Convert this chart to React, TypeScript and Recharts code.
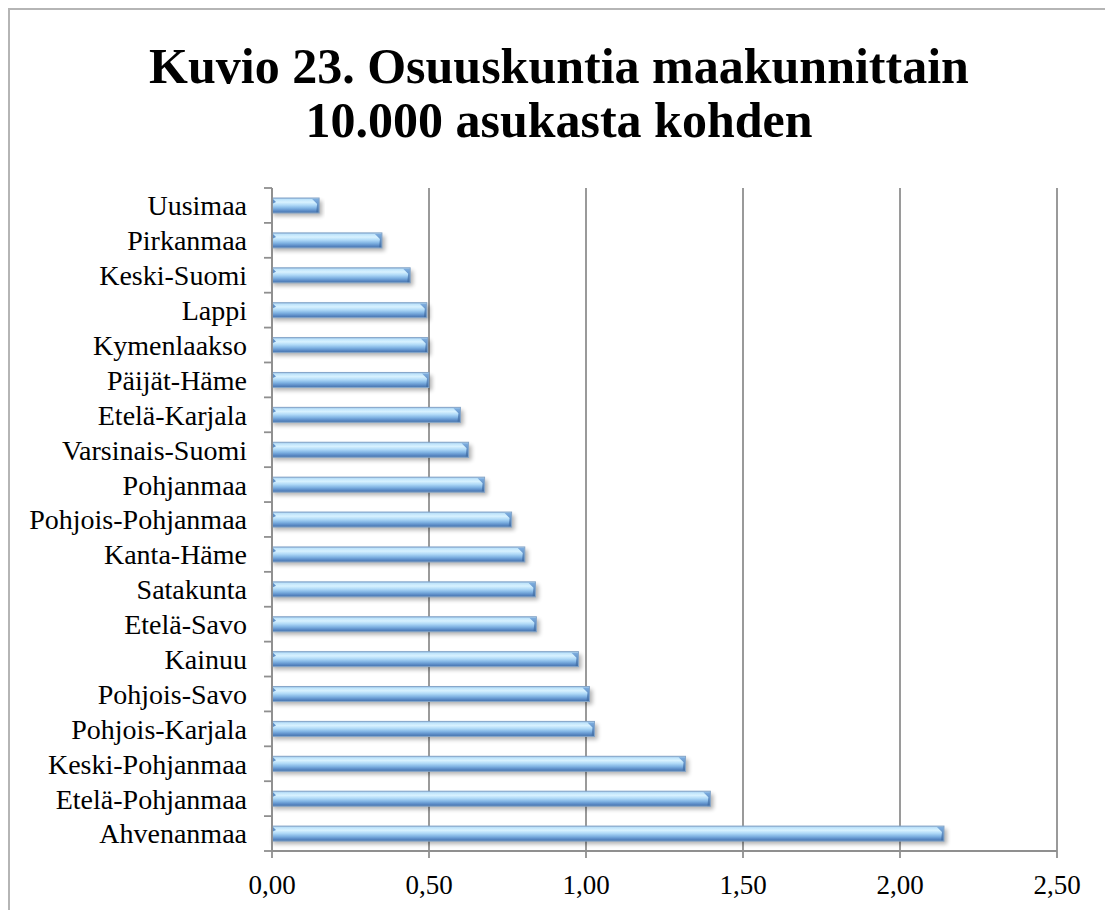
import React from "react";
import { Bar, BarChart, CartesianGrid, XAxis, YAxis } from "recharts";

const regions = [
  "Uusimaa",
  "Pirkanmaa",
  "Keski-Suomi",
  "Lappi",
  "Kymenlaakso",
  "Päijät-Häme",
  "Etelä-Karjala",
  "Varsinais-Suomi",
  "Pohjanmaa",
  "Pohjois-Pohjanmaa",
  "Kanta-Häme",
  "Satakunta",
  "Etelä-Savo",
  "Kainuu",
  "Pohjois-Savo",
  "Pohjois-Karjala",
  "Keski-Pohjanmaa",
  "Etelä-Pohjanmaa",
  "Ahvenanmaa",
];

const perTenThousand = [
  0.15, 0.35, 0.44, 0.493, 0.496, 0.5, 0.6, 0.626, 0.677, 0.763, 0.805, 0.839, 0.842, 0.976, 1.011,
  1.027, 1.317, 1.396, 2.14,
];

const xTicks = [0, 0.5, 1, 1.5, 2, 2.5];

const titleLines = ["Kuvio 23. Osuuskuntia maakunnittain", "10.000 asukasta kohden"];

const chartData = regions.map((name, i) => ({ name, value: perTenThousand[i] }));

const serif = "'Liberation Serif', 'Times New Roman', serif";
const axisGray = "#8f8f8f";
const TICK_LEN = 8;
const TICK_GAP = 17;

// category ticks sit on band boundaries (Excel style), labels in the middle
function RegionTick(props: any) {
  const { x, y, payload, index, visibleTicksCount } = props;
  const half = payload?.offset ?? 0;
  const lineX1 = x + TICK_GAP;
  const lineX2 = x + TICK_GAP + TICK_LEN;
  return (
    <g>
      <line x1={lineX1} x2={lineX2} y1={y - half} y2={y - half} stroke={axisGray} strokeWidth={1.8} />
      {index === visibleTicksCount - 1 && (
        <line x1={lineX1} x2={lineX2} y1={y + half} y2={y + half} stroke={axisGray} strokeWidth={1.8} />
      )}
      <text x={x} y={y} dy="0.355em" textAnchor="end" fontSize={28} fontFamily={serif} fill="#000">
        {payload.value}
      </text>
    </g>
  );
}

function BevelBar(props: any) {
  const { x, y, width, height } = props;
  if (!width || width <= 0) return null;
  const bev = Math.min(7, width);
  const r = x + width;
  return (
    <g>
      <rect x={x + 1} y={y + 3} width={width + 2} height={height} fill="#000" opacity={0.3} filter="url(#barShadow)" />
      <rect x={x} y={y} width={width} height={height} fill="url(#barGrad)" />
      {/* darker bevelled end cap */}
      <polygon
        points={`${r - bev},${y + 1} ${r},${y + 1} ${r},${y + height} ${r - 3},${y + height} ${r - 2},${y + bev - 1}`}
        fill="url(#bevelGrad)"
      />
      <polygon points={`${x},${y} ${x + 4},${y + 4} ${x},${y + 6}`} fill="#5e8fc7" />
      <rect x={x} y={y} width={width} height={height} fill="none" stroke="#86a6c9" strokeWidth={1} />
    </g>
  );
}

export default function App() {
  return (
    <div
      style={{
        position: "fixed",
        left: 8,
        top: 8,
        width: 1097,
        height: 902,
        overflow: "hidden",
        background: "#fff",
      }}
    >
      <div
        style={{
          position: "absolute",
          left: 0,
          top: 0,
          width: 1140,
          height: 960,
          border: "2px solid #b5b5b5",
          boxSizing: "border-box",
        }}
      />
      <div
        style={{
          position: "absolute",
          left: 0,
          top: 31,
          width: 1102,
          textAlign: "center",
          fontFamily: serif,
          fontWeight: "bold",
          fontSize: 50,
          lineHeight: "54px",
          color: "#000",
        }}
      >
        {titleLines.map((t) => (
          <div key={t}>{t}</div>
        ))}
      </div>
      <div style={{ position: "absolute", left: 0, top: 0 }}>
        <BarChart
          width={1097}
          height={902}
          data={chartData}
          layout="vertical"
          margin={{ top: 180, right: 48, bottom: 0, left: 0 }}
          barSize={15}
        >
          <defs>
            <linearGradient id="barGrad" x1="0" y1="0" x2="0" y2="1">
              <stop offset="0%" stopColor="#8fb8e0" />
              <stop offset="10%" stopColor="#bfe4fb" />
              <stop offset="28%" stopColor="#d8f2ff" />
              <stop offset="48%" stopColor="#afd9f7" />
              <stop offset="68%" stopColor="#80b3e3" />
              <stop offset="86%" stopColor="#5a8ac5" />
              <stop offset="100%" stopColor="#4472ab" />
            </linearGradient>
            <linearGradient id="bevelGrad" x1="0" y1="0" x2="0" y2="1">
              <stop offset="0%" stopColor="#7eaee0" />
              <stop offset="100%" stopColor="#3f6ca4" />
            </linearGradient>
            <filter id="barShadow" x="-5%" y="-80%" width="110%" height="260%">
              <feGaussianBlur stdDeviation="2" />
            </filter>
          </defs>
          <CartesianGrid horizontal={false} stroke={axisGray} strokeWidth={1.8} />
          <XAxis
            type="number"
            domain={[0, 2.5]}
            ticks={xTicks}
            interval={0}
            height={59}
            axisLine={{ stroke: axisGray, strokeWidth: 1.8 }}
            tickLine={{ stroke: axisGray, strokeWidth: 1.8 }}
            tickSize={7}
            tickMargin={17}
            tickFormatter={(v: number) => v.toFixed(2).replace(".", ",")}
            tick={{ fontSize: 27, fontFamily: serif, fill: "#000" }}
          />
          <YAxis
            type="category"
            dataKey="name"
            width={264}
            interval={0}
            axisLine={{ stroke: axisGray, strokeWidth: 1.8 }}
            tickLine={false}
            tickSize={TICK_LEN}
            tickMargin={TICK_GAP}
            tick={<RegionTick />}
          />
          <Bar dataKey="value" shape={<BevelBar />} isAnimationActive={false} />
        </BarChart>
      </div>
    </div>
  );
}
